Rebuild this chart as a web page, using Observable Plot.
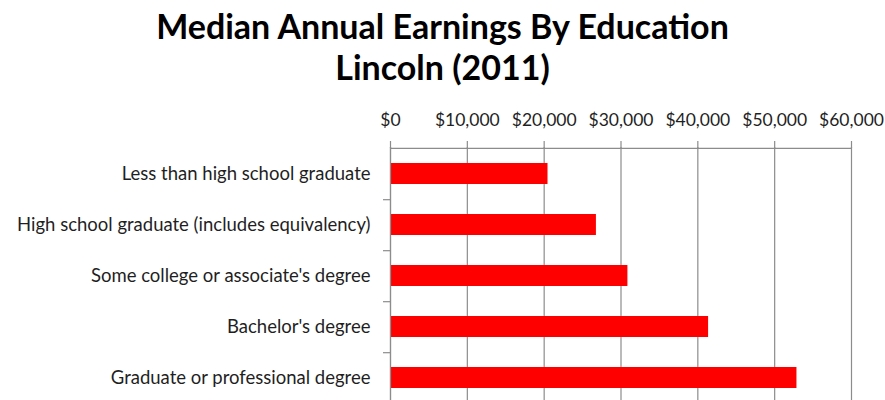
<!DOCTYPE html>
<html>
<head>
<meta charset="utf-8">
<script src="https://cdn.jsdelivr.net/npm/d3@7"></script>
<script src="https://cdn.jsdelivr.net/npm/@observablehq/plot@0.6"></script>
<style>
  html, body { margin: 0; padding: 0; background: #fff; overflow: hidden; width: 885px; height: 400px; }
  #wrap { position: relative; width: 885px; height: 400px; }
  #title { position: absolute; left: 0; top: 5px; width: 885px; text-align: center;
           font-family: Lato, "Open Sans", sans-serif; font-weight: 700; font-size: 34px;
           line-height: 41px; color: #000; }
  #chart { position: absolute; left: 0; top: 100px; }
</style>
</head>
<body>
<div id="wrap">
  <div id="title">Median Annual Earnings By Education<br>Lincoln (2011)</div>
  <div id="chart"></div>
</div>
<script>
const categories = [
  "Less than high school graduate",
  "High school graduate (includes equivalency)",
  "Some college or associate's degree",
  "Bachelor's degree",
  "Graduate or professional degree"
];
const earnings = [20500, 26800, 30900, 41400, 52900];
const xTicks = [0, 10000, 20000, 30000, 40000, 50000, 60000];
const xTickLabels = ["$0", "$10,000", "$20,000", "$30,000", "$40,000", "$50,000", "$60,000"];

const data = categories.map((c, i) => ({category: c, value: earnings[i]}));

const marginTop = 47;
const plotH = 257;
const step = plotH / categories.length;
const gray = "#8c8c8c";

const chart = Plot.plot({
  width: 885,
  height: marginTop + plotH,
  marginTop,
  marginBottom: 0,
  marginLeft: 390,
  marginRight: 34,
  style: {fontFamily: "Lato, 'Open Sans', sans-serif", fontSize: "18.5px", color: "#1f1f1f", background: "#fff"},
  x: {domain: [0, 60000]},
  y: {domain: categories, paddingInner: 0.58, paddingOuter: 0.29, align: 0.5},
  marks: [
    Plot.gridX(xTicks, {stroke: gray, strokeOpacity: 1, strokeWidth: 1.2}),
    Plot.barX(data, {y: "category", x: "value", fill: "#ff0000"}),
    Plot.ruleY([categories[0]], {x1: 0, x2: 60000, dy: -step / 2, stroke: gray, strokeWidth: 1.2}),
    Plot.ruleX([0], {stroke: gray, strokeWidth: 1.2}),
    Plot.axisX(xTicks, {anchor: "top", tickSize: 7, tickPadding: 15, stroke: gray, strokeWidth: 1.2,
      fontSize: 17.5, tickFormat: (d) => xTickLabels[xTicks.indexOf(d)], label: null, fill: "#1f1f1f"}),
    Plot.axisY({tickSize: 0, tickPadding: 20, label: null, fill: "#1f1f1f"}),
    Plot.axisY({tickSize: 7, tickFormat: () => "", label: null, dy: step / 2, stroke: gray, strokeWidth: 1.2})
  ]
});
document.getElementById("chart").appendChild(chart);
</script>
</body>
</html>
